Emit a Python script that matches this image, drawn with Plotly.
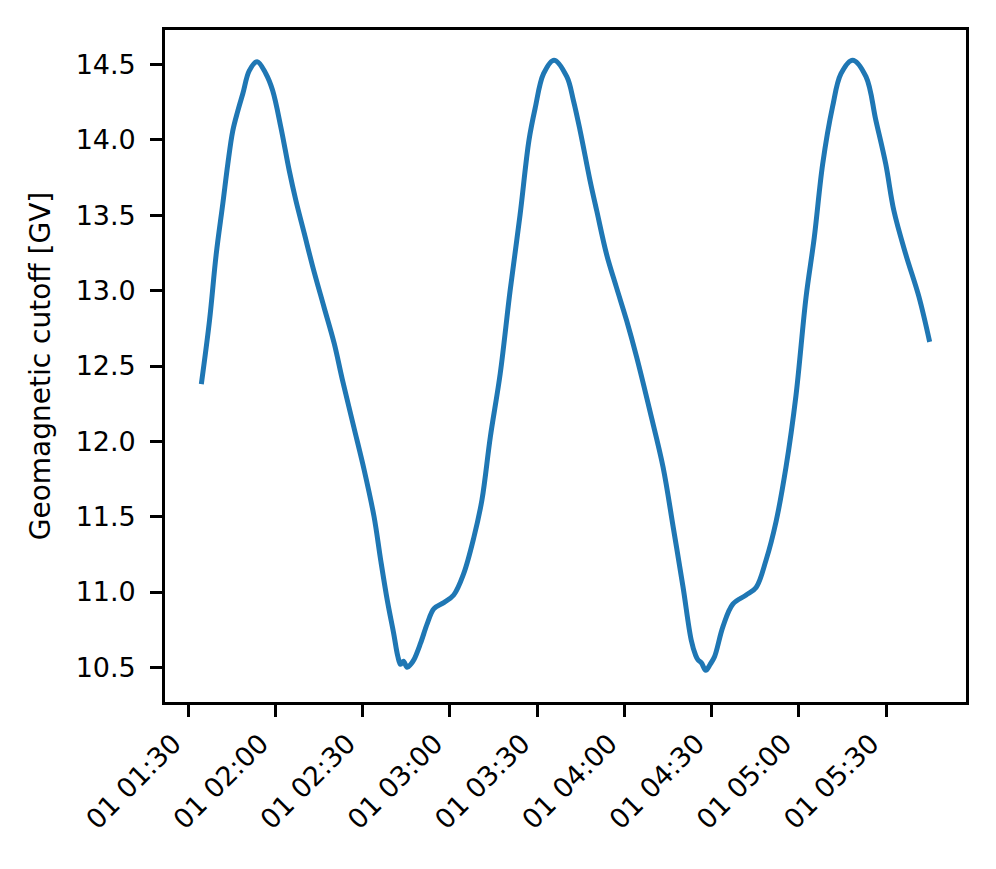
import plotly.graph_objects as go

day = "2023-01-01"
times = [
    "01:34:30", "01:37:18", "01:39:36", "01:41:54", "01:43:36", "01:45:18", "01:47:00", "01:48:48",
    "01:51:00", "01:53:42", "01:56:42", "01:59:00", "02:01:54", "02:04:42", "02:07:00", "02:09:54",
    "02:12:48", "02:16:42", "02:20:12", "02:23:00", "02:27:00", "02:30:30", "02:33:54", "02:36:12",
    "02:38:30", "02:40:42", "02:42:00", "02:43:00", "02:44:00", "02:45:18", "02:46:30", "02:47:36",
    "02:49:54", "02:52:12", "02:54:30", "02:57:54", "03:01:18", "03:04:42", "03:08:12", "03:11:00",
    "03:13:54", "03:17:18", "03:20:42", "03:24:06", "03:27:12", "03:29:18", "03:32:12", "03:35:48",
    "03:40:12", "03:42:30", "03:44:48", "03:48:12", "03:50:30", "03:53:54", "03:57:18", "04:00:48",
    "04:04:12", "04:08:48", "04:13:18", "04:16:48", "04:20:12", "04:23:00", "04:24:30", "04:25:18",
    "04:26:30", "04:28:00", "04:29:30", "04:31:00", "04:33:54", "04:37:18", "04:41:54", "04:45:18",
    "04:48:42", "04:52:12", "04:55:36", "04:59:00", "05:02:30", "05:05:18", "05:08:12", "05:11:36",
    "05:14:30", "05:18:30", "05:23:06", "05:26:30", "05:29:54", "05:32:42", "05:36:48", "05:41:18",
    "05:45:00",
]
cutoff_gv = [
    12.38, 12.80, 13.24, 13.58, 13.84, 14.06, 14.19, 14.31,
    14.46, 14.52, 14.44, 14.33, 14.08, 13.80, 13.60, 13.38,
    13.16, 12.89, 12.65, 12.41, 12.09, 11.81, 11.50, 11.21,
    10.94, 10.72, 10.58, 10.52, 10.54, 10.50, 10.52, 10.55,
    10.66, 10.79, 10.89, 10.93, 10.98, 11.12, 11.36, 11.61,
    12.03, 12.45, 13.00, 13.50, 14.00, 14.21, 14.44, 14.53,
    14.42, 14.26, 14.06, 13.73, 13.53, 13.24, 13.02, 12.80,
    12.56, 12.20, 11.83, 11.43, 11.03, 10.68, 10.58, 10.55,
    10.53, 10.48, 10.52, 10.57, 10.77, 10.92, 10.98, 11.03,
    11.21, 11.47, 11.83, 12.30, 12.96, 13.35, 13.84, 14.22,
    14.44, 14.53, 14.42, 14.13, 13.84, 13.53, 13.24, 12.96,
    12.66,
]
y_ticks = [10.5, 11.0, 11.5, 12.0, 12.5, 13.0, 13.5, 14.0, 14.5]

x = [f"{day} {t}" for t in times]

FONT = "DejaVu Sans"
FS = 27
fig = go.Figure()
fig.add_trace(go.Scatter(
    x=x, y=cutoff_gv, mode="lines",
    line=dict(color="#1f77b4", width=5, shape="spline", smoothing=1.0),
    showlegend=False, hoverinfo="skip",
))

axis_common = dict(
    showline=True, linecolor="black", linewidth=2.7, mirror=True,
    ticks="outside", ticklen=12, tickwidth=2.5, tickcolor="black",
    showgrid=False, zeroline=False,
    tickfont=dict(family=FONT, size=FS, color="black"),
)

fig.update_layout(
    width=980, height=853,
    margin=dict(l=157, r=22, t=22, b=159),
    paper_bgcolor="white", plot_bgcolor="white",
    font=dict(family=FONT, color="black"),
)
fig.update_xaxes(
    **axis_common,
    range=[f"{day} 01:22:00", f"{day} 05:57:30"],
    tick0=f"{day} 01:30:00", dtick=30 * 60 * 1000,
    tickformat="%d %H:%M", tickangle=-45,
    ticklabelshift=-15,
)
fig.update_yaxes(
    **axis_common,
    range=[10.27, 14.73],
    tickvals=y_ticks, ticktext=[f"{v:.1f}" for v in y_ticks],
    ticklabelstandoff=9,
    title=dict(text="Geomagnetic cutoff [GV]", font=dict(family=FONT, size=28, color="black"), standoff=17),
)

fig.write_html("out.html")
